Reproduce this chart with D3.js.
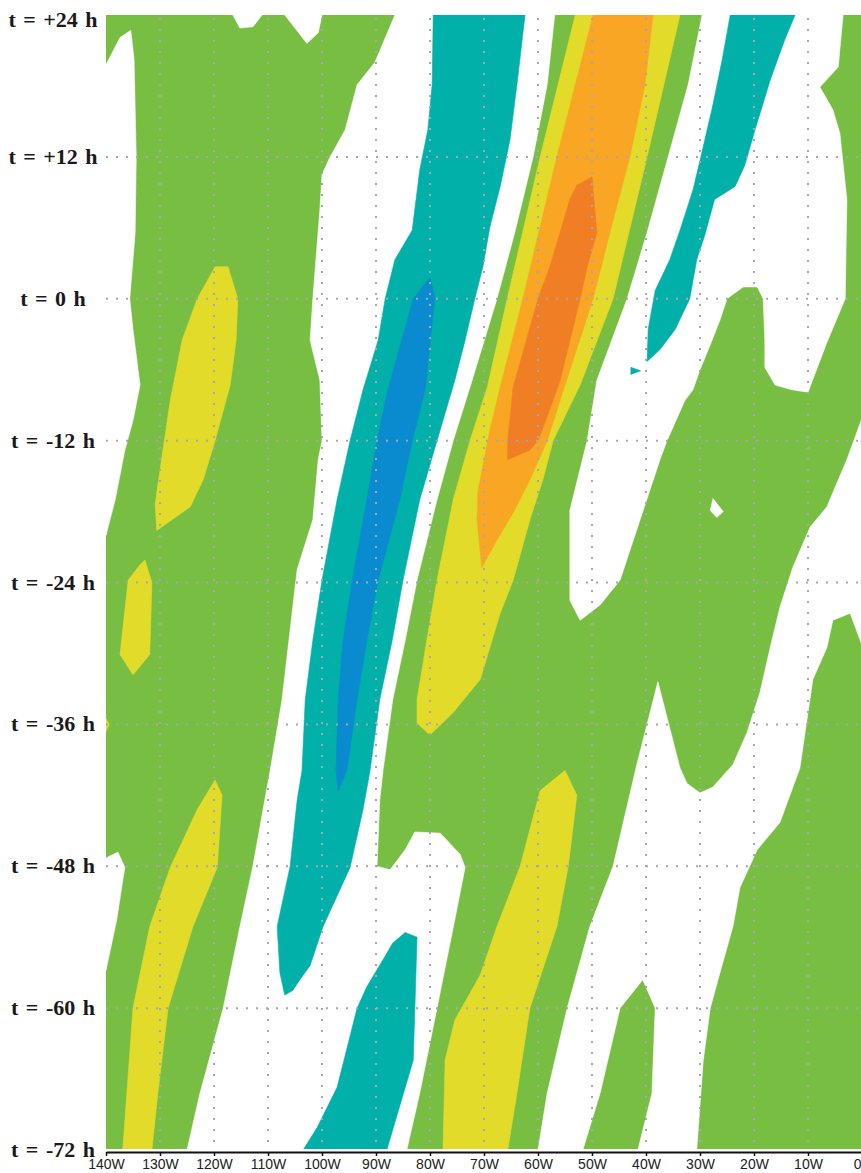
<!DOCTYPE html>
<html>
<head>
<meta charset="utf-8">
<script src="https://cdn.jsdelivr.net/npm/d3@7"></script>
<style>
  html, body { margin: 0; padding: 0; background: #fff; }
  svg { display: block; }
</style>
</head>
<body>
<svg id="hov" width="861" height="1173"></svg>
<script>
// longitude (deg W) and time (h) ticks
const lonTicks = [140, 130, 120, 110, 100, 90, 80, 70, 60, 50, 40, 30, 20, 10, 0];
const hourTicks = [24, 12, 0, -12, -24, -36, -48, -60, -72];

// contour areas, vertices as [deg W, hour]
const whiteAreas = [
  [[140,19.8],[137.4,22.1],[135.4,22.7],[134.8,20.2],[134.4,12],[134.6,5.6],[135.6,0],[135,-2.6],[133.7,-7.3],[135,-10.3],[136.5,-12.8],[138.3,-17],[140,-20]],
  [[140,-47.3],[137.8,-46.8],[136.5,-48.1],[136.9,-49.2],[138,-52.5],[140,-56.8]],
  [[116.5,24],[115.2,22.9],[112.8,23],[111.1,24]],
  [[106.9,24],[102.8,21.6],[100.7,22.5],[100,24]],
  [[86.5,24],[90.2,20],[93.5,18.1],[95.7,14.3],[98.5,12],[100,10.5],[100.4,7.5],[101.7,0],[102.2,-3.5],[100.4,-6.9],[100,-12],[100.7,-13.6],[101.7,-18.7],[104.6,-22.9],[105.9,-28],[107.4,-33.9],[109.6,-39.9],[110.6,-42.4],[112.8,-48],[115.2,-53.1],[118.3,-60],[122.6,-67.2],[125,-72],
   [84.3,-72],[81.9,-67.2],[78.7,-60],[75.4,-52.5],[73.5,-48.1],[74.4,-47],[78.1,-45.2],[82.8,-45.1],[84.6,-46.6],[87.4,-48.3],[89.8,-48],[89.3,-42.4],[88.7,-39.9],[86.9,-33.9],[84.6,-28.9],[82.4,-23.8],[78.7,-17],[75.7,-12],[72.2,-6.9],[67.6,0],[64.3,5.6],[60.9,12],[58.3,18.1],[56.9,24]],
  [[29.6,24],[3.5,24],[4.4,19.6],[7.8,17.9],[5.4,16],[4.1,14],[2.8,8.4],[3.1,0],[6.5,-3.7],[10,-7.9],[13,-7.7],[16.1,-7.3],[18,-5.8],[18,-3.5],[18.3,0],[19.4,1],[22,1],[25,0],[26.3,-1.8],[28.1,-3.9],[30,-6],[31.3,-7.7],[32.8,-8.6],[36.1,-12],[37.4,-13.6],[41.1,-18.7],[44.8,-23.8],[48.5,-25.9],[52.2,-27.2],[54.1,-25.5],[54.1,-17.9],[50.9,-12],[49.1,-6.9],[43.5,0],[39.8,5.6],[35.9,12],[32.2,18.1]],
  [[0,-10.1],[2.8,-13.6],[6.5,-17.6],[9.6,-19.3],[12.8,-22.7],[15.2,-26.1],[17,-29.5],[18.9,-33.3],[21.3,-36.7],[23.9,-39.4],[27.6,-41.3],[30,-41.8],[32.4,-41],[33.7,-39.7],[37.8,-32.4],[41.7,-39.4],[46.1,-48],[50.4,-53.1],[54.6,-60],[58.3,-67.2],[60,-72],
   [51.7,-72],[48.5,-67.2],[44.8,-60],[40.6,-57.6],[38.3,-60],[38.9,-67.2],[41.5,-72],[30.6,-72],[29.4,-64.4],[28.1,-60],[26.3,-57],[23.9,-53.1],[22.6,-49.8],[19.4,-46.6],[15.2,-44.3],[11.5,-39.7],[9.1,-32.2],[6.5,-29.5],[5.4,-27.2],[2.2,-26.6],[0,-29.3]],
  [[27.6,-16.9],[25.7,-18],[26.9,-18.5],[28.1,-17.9]]
];

const tealAreas = [
  [[79.4,24],[79.6,18.1],[80.4,14.3],[81.9,10.9],[83.3,5.8],[86.5,3.3],[88.3,0],[89.6,-3.5],[92.4,-7.7],[94.8,-12],[97.2,-17],[100,-23.8],[101.7,-28.9],[103.1,-33.9],[103.7,-39.9],[104.6,-42.4],[105.9,-48],[108.3,-53.1],[107.8,-57],[106.9,-58.9],[105.4,-58.5],[104.1,-57.6],[102.2,-56.4],[99.8,-53.1],[94.8,-48.1],[92.4,-43.2],[91.1,-39.9],[89.3,-33.9],[87,-28.9],[85,-23.8],[81.9,-17],[78.7,-12],[75.4,-6.9],[73.5,-3.5],[71.7,0],[70.2,2.7],[68.9,6.1],[67,9.5],[65.2,13.4],[63.9,18.1],[62.4,24]],
  [[24.4,24],[25.9,20.2],[27.8,16],[30,11.7],[31.3,9.2],[33.7,5.8],[35.6,3.3],[38.3,0.7],[39.6,-2.6],[39.8,-5.3],[37.4,-4.3],[34.6,-2.6],[31.9,0],[30.6,3.3],[29.1,5.4],[27.3,8.4],[23.5,9.5],[21.7,11.3],[19.8,14.3],[17,18.5],[14.3,21.9],[12.4,24]],
  [[84.6,-53.6],[82.4,-54],[82.8,-60],[83.1,-64.4],[88,-72],[103.5,-72],[100.9,-70.1],[97.2,-66.7],[93.5,-60],[91.7,-58.2],[88.7,-55.9],[86.9,-54.5]],
  [[42.8,-5.8],[41,-6.1],[42.8,-6.4]]
];

const blueAreas = [
  [[80,1.8],[79.1,0],[80.9,-7.7],[83.3,-12],[85.6,-17],[89.6,-23.8],[91.7,-28.9],[93.5,-33.9],[95.4,-39.9],[97,-41.6],[97.4,-39.9],[97,-33.9],[96.1,-28.9],[94.4,-23.8],[91.7,-17],[89.8,-12],[87.8,-7.7],[83.1,0]]
];

const yellowAreas = [
  [[119.8,2.7],[117.4,2.7],[115.6,0],[115.9,-3.5],[117,-7.3],[119.8,-12],[122,-15.3],[124.4,-17.6],[130.6,-19.6],[130.9,-17.4],[130,-14.5],[128.1,-8.6],[125.9,-3.5],[123.1,0]],
  [[132.8,-22.1],[131.5,-24],[131.9,-30.1],[135,-31.8],[137.4,-30.1],[135.9,-23.8],[133.7,-22.5]],
  [[140,-35.5],[139.4,-36],[140,-36.6]],
  [[119.8,-40.7],[118.5,-42],[119.4,-48.1],[123.9,-53.1],[128.5,-60],[130.4,-67.2],[131.5,-72],[136.9,-72],[135,-60],[131.9,-53.1],[128.1,-48.1],[123.1,-43.2]],
  [[53.1,24],[59.6,12],[65.7,0],[69.4,-7.5],[72.6,-12],[75.7,-17],[78.7,-23.8],[80.6,-28.9],[82.4,-33.9],[82.4,-35.9],[80,-36.9],[75.7,-35],[70.7,-32.2],[67,-26.6],[64.6,-23.8],[61.5,-18.7],[59.1,-15.3],[57.2,-12],[52.2,-7.3],[46.1,0],[39.8,12],[33.7,24]],
  [[55,-39.9],[52.8,-42],[54.4,-48],[56.5,-53.1],[61.5,-60],[63.9,-67.2],[65.6,-72],[77.6,-72],[77.2,-64.4],[75.4,-61],[70.7,-57.2],[67.6,-53.1],[63.3,-48],[59.6,-41.6]]
];

const orangeAreas = [
  [[49.8,24],[56.5,12],[62.8,0],[67,-7.5],[68.9,-11.1],[71.1,-16.2],[71.3,-18.7],[70.4,-22.7],[67.6,-20.4],[64.6,-18.1],[61.5,-15.3],[58.3,-12],[55,-7.3],[49.8,0],[46.7,5.6],[43,12],[40.2,18.1],[38.7,24]]
];

const darkOrangeAreas = [
  [[52.8,9.6],[50,10.3],[49.4,7.1],[49.1,5.6],[50.9,2.7],[52.2,0],[55.9,-6.9],[58.1,-9.7],[60,-12],[61.5,-12.8],[65.6,-13.6],[65.6,-12],[64.6,-7.5],[60,0],[57.8,2.7],[54.1,8.4]]
];

(function() {
  const svg = d3.select('#hov');
  const X0 = 106, X1 = 862, Y0 = 15, Y1 = 1150;

  const x = d3.scaleLinear().domain([140, 0]).range([X0, X1]);
  const y = d3.scaleLinear().domain([24, -72]).range([Y0, Y1]);

  svg.append('defs').append('clipPath').attr('id', 'plotClip')
    .append('rect')
    .attr('x', X0).attr('y', Y0)
    .attr('width', 861 - X0).attr('height', 1149 - Y0);

  const plot = svg.append('g').attr('clip-path', 'url(#plotClip)');

  // base level is green, everything else painted on top
  plot.append('rect')
    .attr('x', X0).attr('y', Y0)
    .attr('width', X1 - X0).attr('height', Y1 - Y0)
    .attr('fill', '#77be43');

  const line = d3.line()
    .x(d => x(d[0]))
    .y(d => y(d[1]))
    .curve(d3.curveLinearClosed);

  const layers = [
    [whiteAreas, '#ffffff'],
    [tealAreas, '#00b0a9'],
    [blueAreas, '#0b8bcf'],
    [yellowAreas, '#e2db2a'],
    [orangeAreas, '#f8a624'],
    [darkOrangeAreas, '#f07e25']
  ];
  layers.forEach(([areas, col]) => {
    plot.append('g').selectAll('path')
      .data(areas)
      .join('path')
      .attr('d', line)
      .attr('fill', col)
      .attr('stroke', col)
      .attr('stroke-width', 0.6);
  });

  // dotted grid
  const grid = svg.append('g')
    .attr('stroke', '#a6a6b4')
    .attr('stroke-width', 2);
  grid.selectAll('line.v')
    .data(lonTicks.filter(d => d !== 140 && d !== 0))
    .join('line')
    .attr('class', 'v')
    .attr('x1', d => x(d)).attr('x2', d => x(d))
    .attr('y1', Y0 + 3).attr('y2', Y1 - 2)
    .attr('stroke-dasharray', '2,9');
  grid.selectAll('line.h')
    .data(hourTicks.filter(d => d !== 24 && d !== -72))
    .join('line')
    .attr('class', 'h')
    .attr('x1', X0).attr('x2', 861)
    .attr('y1', d => y(d)).attr('y2', d => y(d))
    .attr('stroke-dasharray', '2,8');

  // bottom axis
  const xAxis = d3.axisBottom(x)
    .tickValues(lonTicks)
    .tickFormat(d => d === 0 ? '0' : d + 'W')
    .tickSizeInner(4)
    .tickSizeOuter(0)
    .tickPadding(3);
  const ax = svg.append('g')
    .attr('transform', `translate(0,${Y1 + 2})`)
    .call(xAxis);
  ax.select('.domain').attr('stroke', '#111').attr('stroke-width', 2);
  ax.selectAll('.tick line').attr('stroke', '#111').attr('stroke-width', 1.5);
  ax.selectAll('.tick text')
    .attr('fill', '#222')
    .style('font-family', '"Liberation Sans", Arial, sans-serif')
    .style('font-size', '14px');
  // last label sits at the right edge, keep it inside the picture
  ax.selectAll('.tick text').filter(d => d === 0)
    .attr('text-anchor', 'end')
    .attr('x', -1);

  // time labels on the left
  svg.append('g').selectAll('text')
    .data(hourTicks)
    .join('text')
    .attr('x', 53)
    .attr('y', d => Math.max(y(d) + 7, 27))
    .attr('text-anchor', 'middle')
    .attr('fill', '#1a1a1a')
    .style('font-family', '"Liberation Serif", "Times New Roman", serif')
    .style('font-weight', 'bold')
    .style('font-size', '22px')
    .style('word-spacing', '2px')
    .text(d => 't = ' + (d > 0 ? '+' + d : d) + ' h');
})();
</script>
</body>
</html>
